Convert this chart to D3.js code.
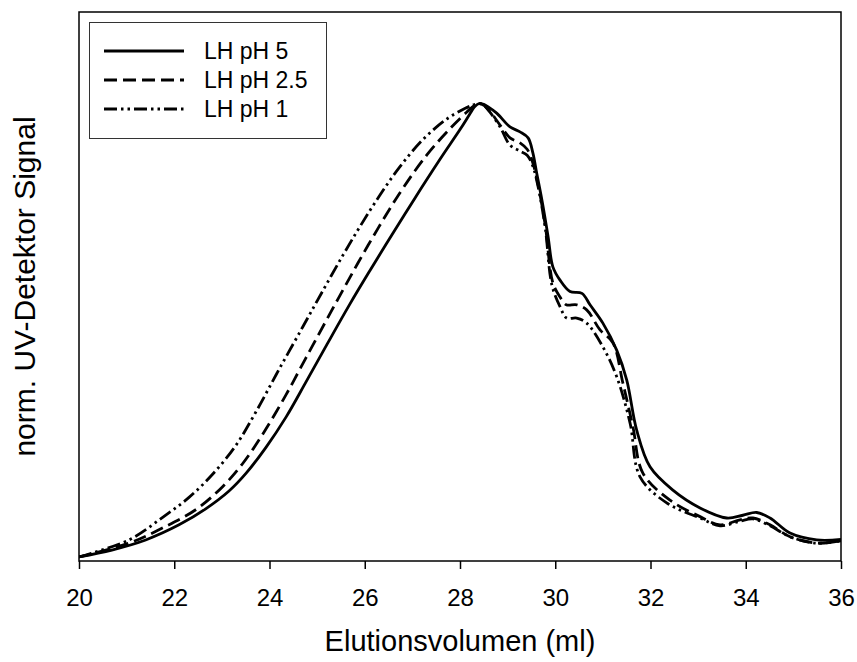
<!DOCTYPE html>
<html>
<head>
<meta charset="utf-8">
<script src="https://cdn.jsdelivr.net/npm/d3@7"></script>
<style>
  html, body { margin: 0; padding: 0; background: #fff; }
  svg { display: block; font-family: "Liberation Sans", Arial, sans-serif; }
</style>
</head>
<body>
<svg id="chart" width="857" height="662"></svg>
<script>
// ---- data ----
const xTicks = [20, 22, 24, 26, 28, 30, 32, 34, 36];
const seriesNames = ["LH pH 5", "LH pH 2.5", "LH pH 1"];

const volPH5 = [20.0, 20.69, 21.4, 22.1, 22.66, 23.15, 23.51, 23.93, 24.35, 24.77, 25.21, 25.69, 26.11, 26.47, 27.01, 27.58, 28.0, 28.2, 28.3, 28.4, 28.5, 28.6, 28.77, 29.05, 29.26, 29.43, 29.53, 29.61, 29.72, 29.85, 29.95, 30.1, 30.31, 30.56, 30.73, 31.0, 31.29, 31.5, 31.71, 31.99, 32.47, 33.04, 33.6, 33.94, 34.23, 34.51, 34.93, 35.49, 36.0];
const sigPH5 = [0.009, 0.024, 0.046, 0.079, 0.114, 0.153, 0.192, 0.249, 0.315, 0.392, 0.474, 0.562, 0.635, 0.696, 0.786, 0.878, 0.943, 0.976, 0.992, 1.0, 0.998, 0.992, 0.979, 0.949, 0.938, 0.925, 0.892, 0.848, 0.789, 0.709, 0.643, 0.614, 0.589, 0.585, 0.560, 0.520, 0.461, 0.396, 0.286, 0.206, 0.155, 0.116, 0.094, 0.100, 0.106, 0.094, 0.061, 0.046, 0.047];

const volPH25 = [20.0, 21.05, 21.75, 22.45, 23.01, 23.43, 23.85, 24.34, 24.76, 25.44, 26.07, 26.74, 27.3, 27.79, 28.15, 28.3, 28.4, 28.5, 28.62, 28.84, 29.05, 29.26, 29.41, 29.53, 29.64, 29.79, 29.95, 30.1, 30.23, 30.45, 30.66, 30.94, 31.21, 31.42, 31.63, 31.84, 32.41, 33.04, 33.46, 33.88, 34.15, 34.51, 34.93, 35.49, 36.0];
const sigPH25 = [0.009, 0.039, 0.072, 0.112, 0.162, 0.212, 0.276, 0.362, 0.443, 0.573, 0.690, 0.805, 0.887, 0.945, 0.982, 0.995, 1.0, 0.996, 0.984, 0.953, 0.925, 0.914, 0.900, 0.870, 0.822, 0.734, 0.608, 0.577, 0.560, 0.560, 0.549, 0.505, 0.477, 0.389, 0.294, 0.192, 0.133, 0.097, 0.079, 0.090, 0.094, 0.079, 0.053, 0.039, 0.044];

const volPH1 = [20.0, 21.05, 21.75, 22.31, 22.8, 23.29, 23.71, 24.18, 24.7, 25.1, 25.54, 25.9, 26.32, 26.74, 27.22, 27.72, 28.1, 28.28, 28.4, 28.5, 28.62, 28.84, 29.05, 29.26, 29.41, 29.53, 29.64, 29.79, 29.93, 30.1, 30.24, 30.45, 30.66, 31.0, 31.29, 31.57, 31.78, 32.34, 33.04, 33.46, 33.88, 34.15, 34.51, 34.93, 35.49, 36.0];
const sigPH1 = [0.009, 0.046, 0.095, 0.139, 0.189, 0.252, 0.325, 0.415, 0.512, 0.587, 0.668, 0.731, 0.800, 0.862, 0.921, 0.966, 0.989, 0.997, 1.0, 0.996, 0.982, 0.949, 0.909, 0.896, 0.887, 0.863, 0.818, 0.728, 0.603, 0.556, 0.531, 0.531, 0.520, 0.468, 0.403, 0.302, 0.184, 0.127, 0.094, 0.077, 0.087, 0.092, 0.077, 0.053, 0.039, 0.044];

// ---- layout ----
const svg = d3.select("#chart");
const margin = { left: 79, top: 12, right: 16, bottom: 101 };
const W = 857, H = 662;
const x0 = margin.left, x1 = W - margin.right, y0 = margin.top, y1 = H - margin.bottom;

const x = d3.scaleLinear().domain([20, 36]).range([x0, x1]);
const y = d3.scaleLinear().domain([0, 1.2]).range([y1, y0]);

const styles = [
  { dash: null },
  { dash: "13,6" },
  { dash: "13,4,2.5,4,2.5,4" }
];

const series = [
  volPH5.map((v, i) => [v, sigPH5[i]]),
  volPH25.map((v, i) => [v, sigPH25[i]]),
  volPH1.map((v, i) => [v, sigPH1[i]])
];

svg.append("clipPath").attr("id", "clip")
  .append("rect").attr("x", x0).attr("y", y0).attr("width", x1 - x0).attr("height", y1 - y0);

const line = d3.line().x(d => x(d[0])).y(d => y(d[1])).curve(d3.curveCatmullRom.alpha(0.5));

const g = svg.append("g").attr("clip-path", "url(#clip)");
series.forEach((s, i) => {
  g.append("path")
    .attr("d", line(s))
    .attr("fill", "none")
    .attr("stroke", "#000")
    .attr("stroke-width", 2.8)
    .attr("stroke-dasharray", styles[i].dash);
});

// frame
svg.append("rect")
  .attr("x", x0).attr("y", y0).attr("width", x1 - x0).attr("height", y1 - y0)
  .attr("fill", "none").attr("stroke", "#000").attr("stroke-width", 1.5);

// x axis
const xAxis = d3.axisBottom(x).tickValues(xTicks).tickSize(8).tickPadding(20).tickFormat(d3.format("d"));
const gx = svg.append("g").attr("transform", `translate(0,${y1})`).call(xAxis);
gx.select(".domain").remove();
gx.selectAll(".tick line").attr("stroke", "#000").attr("stroke-width", 1.5);
gx.selectAll(".tick text").attr("fill", "#000").attr("font-size", 24).attr("font-family", "'Liberation Sans', Arial, sans-serif");

// axis titles
svg.append("text")
  .attr("x", (x0 + x1) / 2).attr("y", 651)
  .attr("text-anchor", "middle").attr("font-size", 29).attr("fill", "#000")
  .text("Elutionsvolumen (ml)");

svg.append("text")
  .attr("transform", `translate(35,${(y0 + y1) / 2}) rotate(-90)`)
  .attr("text-anchor", "middle").attr("font-size", 30).attr("fill", "#000")
  .text("norm. UV-Detektor Signal");

// legend
const lg = svg.append("g");
lg.append("rect").attr("x", 89.5).attr("y", 22.5).attr("width", 237).attr("height", 116)
  .attr("fill", "#fff").attr("stroke", "#333").attr("stroke-width", 1);
const rowY = [51, 80, 109];
seriesNames.forEach((name, i) => {
  lg.append("line")
    .attr("x1", 104).attr("x2", 184).attr("y1", rowY[i]).attr("y2", rowY[i])
    .attr("stroke", "#000").attr("stroke-width", 2.8)
    .attr("stroke-dasharray", styles[i].dash);
  lg.append("text")
    .attr("x", 204).attr("y", rowY[i] + 8)
    .attr("font-size", 23).attr("fill", "#000")
    .text(name);
});
</script>
</body>
</html>
